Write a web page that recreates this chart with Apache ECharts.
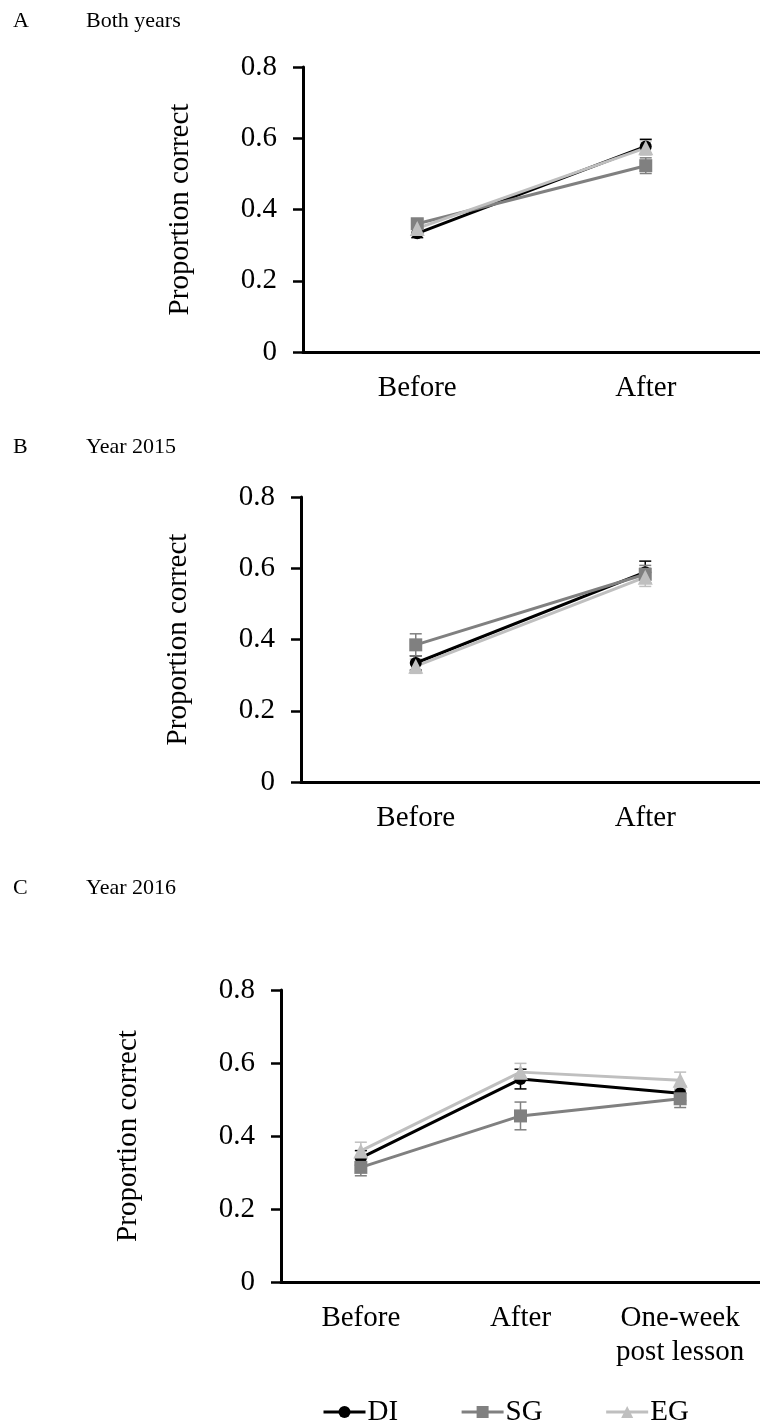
<!DOCTYPE html>
<html>
<head>
<meta charset="utf-8">
<script src="https://cdn.jsdelivr.net/npm/echarts@6/dist/echarts.min.js"></script>
<style>
html,body{margin:0;padding:0;background:#fff;}
#chart{width:760px;height:1427px;}
</style>
</head>
<body>
<div id="chart"></div>
<script>
// ---- data ----
const seriesNames = ['DI', 'SG', 'EG'];
const yTickLabels = ['0', '0.2', '0.4', '0.6', '0.8'];

const catsA = ['Before', 'After'];
const diA = [0.333, 0.577];
const sgA = [0.360, 0.523];
const egA = [0.347, 0.573];
const diErrA = [0.012, 0.020];
const sgErrA = [0.013, 0.022];
const egErrA = [0.012, 0.020];

const catsB = ['Before', 'After'];
const diB = [0.334, 0.589];
const sgB = [0.385, 0.583];
const egB = [0.325, 0.575];
const diErrB = [0.020, 0.031];
const sgErrB = [0.031, 0.025];
const egErrB = [0.020, 0.026];

const catsC = ['Before', 'After', 'One-week\npost lesson'];
const diC = [0.340, 0.556, 0.517];
const sgC = [0.314, 0.455, 0.502];
const egC = [0.359, 0.575, 0.553];
const diErrC = [0.020, 0.027, 0.020];
const sgErrC = [0.023, 0.038, 0.024];
const egErrC = [0.024, 0.024, 0.022];

const panelLetters = ['A', 'B', 'C'];
const panelTitles = ['Both years', 'Year 2015', 'Year 2016'];
const yTitle = 'Proportion correct';

// ---- styling ----
const FONT = 'Liberation Serif, Times New Roman, serif';
const colors = {DI: '#000000', SG: '#808080', EG: '#bfbfbf'};
const symbols = {DI: 'circle', SG: 'rect', EG: 'triangle'};
const symbolSizes = {DI: 12, SG: 13, EG: 15};

const panels = [
  {cats: catsA, vals: [diA, sgA, egA], errs: [diErrA, sgErrA, egErrA],
   grid: {left: 303, top: 67, height: 285, right: -15}, nameGap: 108, titleY: 23},
  {cats: catsB, vals: [diB, sgB, egB], errs: [diErrB, sgErrB, egErrB],
   grid: {left: 301, top: 497, height: 285, right: -10}, nameGap: 108, titleY: 449},
  {cats: catsC, vals: [diC, sgC, egC], errs: [diErrC, sgErrC, egErrC],
   grid: {left: 281, top: 990, height: 292, right: -8}, nameGap: 138, titleY: 890}
];

const grids = [], xAxes = [], yAxes = [], series = [], graphics = [];

panels.forEach((p, pi) => {
  grids.push(Object.assign({containLabel: false}, p.grid));
  xAxes.push({
    type: 'category', gridIndex: pi, data: p.cats, boundaryGap: true,
    axisLine: {lineStyle: {color: '#000', width: 3}},
    axisTick: {show: false},
    axisLabel: {color: '#000', fontFamily: FONT, fontSize: 29, lineHeight: 34, margin: 19, interval: 0},
    splitLine: {show: false}
  });
  yAxes.push({
    type: 'value', gridIndex: pi, min: 0, max: 0.8, interval: 0.2,
    name: yTitle, nameLocation: 'middle', nameGap: p.nameGap,
    nameTextStyle: {color: '#000', fontFamily: FONT, fontSize: 29},
    axisLine: {show: true, lineStyle: {color: '#000', width: 3}},
    axisTick: {show: true, inside: false, length: 10, lineStyle: {color: '#000', width: 2.5}},
    axisLabel: {color: '#000', fontFamily: FONT, fontSize: 29, margin: 26,
      formatter: (v) => yTickLabels[Math.round(v / 0.2)]},
    splitLine: {show: false}
  });
  seriesNames.forEach((name, si) => {
    const vals = p.vals[si], errs = p.errs[si];
    series.push({
      type: 'custom', name: name + ' error', xAxisIndex: pi, yAxisIndex: pi,
      data: vals.map((v, i) => [i, v, errs[i]]),
      itemStyle: {color: colors[name]},
      z: 3,
      renderItem: function (params, api) {
        const x = api.value(0), y = api.value(1), e = api.value(2);
        const top = api.coord([x, y + e]);
        const bot = api.coord([x, y - e]);
        const hw = 6;
        const st = {stroke: colors[name], lineWidth: 1.5};
        return {type: 'group', children: [
          {type: 'line', shape: {x1: top[0], y1: top[1], x2: bot[0], y2: bot[1]}, style: st},
          {type: 'line', shape: {x1: top[0] - hw, y1: top[1], x2: top[0] + hw, y2: top[1]}, style: st},
          {type: 'line', shape: {x1: bot[0] - hw, y1: bot[1], x2: bot[0] + hw, y2: bot[1]}, style: st}
        ]};
      },
      silent: true
    });
    series.push({
      type: 'line', name: name, xAxisIndex: pi, yAxisIndex: pi,
      data: vals, symbol: symbols[name], symbolSize: symbolSizes[name],
      showAllSymbol: true,
      lineStyle: {color: colors[name], width: 3},
      itemStyle: {color: colors[name]},
      z: 4
    });
  });
  graphics.push({type: 'text', left: 13, top: p.titleY - 13,
    style: {text: panelLetters[pi], fill: '#000', font: '22px ' + FONT}});
  graphics.push({type: 'text', left: 86, top: p.titleY - 13,
    style: {text: panelTitles[pi], fill: '#000', font: '22px ' + FONT}});
});

const chart = echarts.init(document.getElementById('chart'), null, {renderer: 'canvas'});
chart.setOption({
  backgroundColor: '#fff',
  animation: false,
  grid: grids, xAxis: xAxes, yAxis: yAxes, series: series,
  legend: {
    data: seriesNames,
    left: 322, top: 1397, padding: 0,
    itemWidth: 42, itemHeight: 15, itemGap: 62,
    lineStyle: {width: 3},
    textStyle: {color: '#000', fontFamily: FONT, fontSize: 29, lineHeight: 30, padding: [0, 0, 0, -3]}
  },
  graphic: graphics
});
</script>
</body>
</html>
